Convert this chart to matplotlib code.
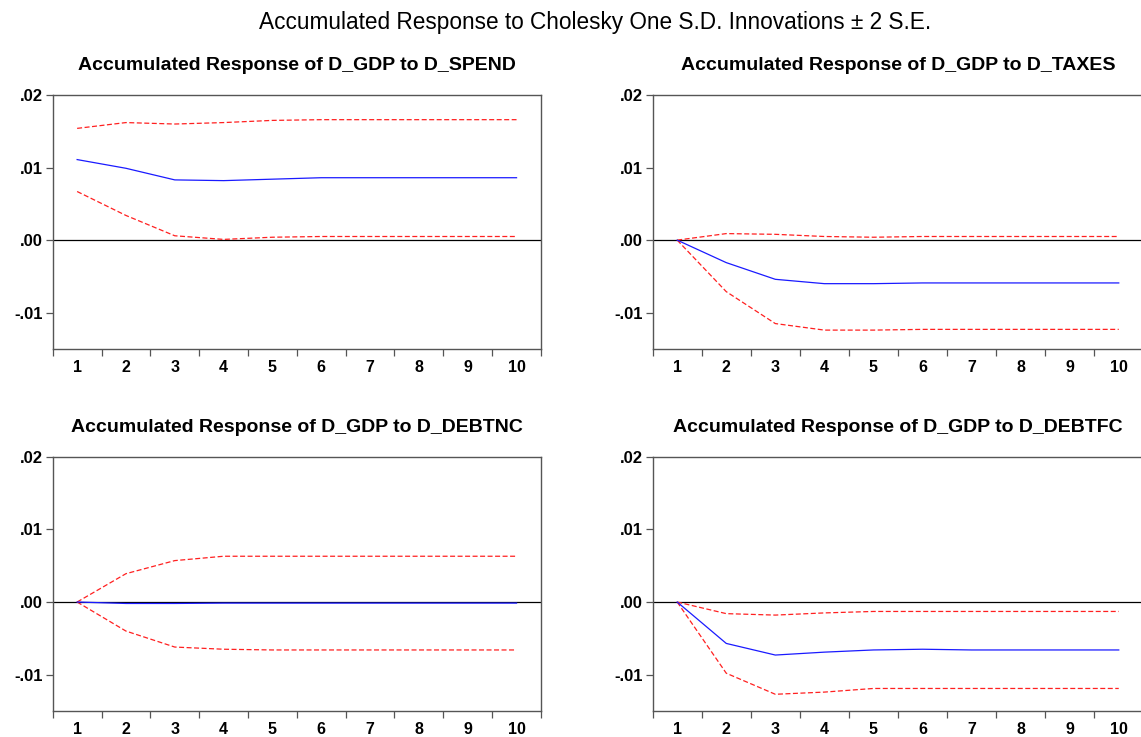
import numpy as np
import matplotlib
matplotlib.use("Agg")
import matplotlib.pyplot as plt
from matplotlib.ticker import FixedLocator

# --- Data ---
periods = list(range(1, 11))

titles = [
    "Accumulated Response of D_GDP to D_SPEND",
    "Accumulated Response of D_GDP to D_TAXES",
    "Accumulated Response of D_GDP to D_DEBTNC",
    "Accumulated Response of D_GDP to D_DEBTFC",
]

spend_resp = [0.0111, 0.0099, 0.0083, 0.0082, 0.0084, 0.0086, 0.0086, 0.0086, 0.0086, 0.0086]
spend_upper = [0.0154, 0.0162, 0.0160, 0.0162, 0.0165, 0.0166, 0.0166, 0.0166, 0.0166, 0.0166]
spend_lower = [0.0067, 0.0034, 0.0006, 0.0001, 0.0004, 0.0005, 0.0005, 0.0005, 0.0005, 0.0005]

taxes_resp = [0.0, -0.0031, -0.0054, -0.0060, -0.0060, -0.0059, -0.0059, -0.0059, -0.0059, -0.0059]
taxes_upper = [0.0, 0.0009, 0.0008, 0.0005, 0.0004, 0.0005, 0.0005, 0.0005, 0.0005, 0.0005]
taxes_lower = [0.0, -0.0071, -0.0115, -0.0124, -0.0124, -0.0123, -0.0123, -0.0123, -0.0123, -0.0123]

debtnc_resp = [0.0, -0.0002, -0.0002, -0.00015, -0.00015, -0.00015, -0.00015, -0.00015, -0.00015, -0.00015]
debtnc_upper = [0.0, 0.0039, 0.0057, 0.0063, 0.0063, 0.0063, 0.0063, 0.0063, 0.0063, 0.0063]
debtnc_lower = [0.0, -0.0040, -0.0062, -0.0065, -0.0066, -0.0066, -0.0066, -0.0066, -0.0066, -0.0066]

debtfc_resp = [0.0, -0.0057, -0.0073, -0.0069, -0.0066, -0.0065, -0.0066, -0.0066, -0.0066, -0.0066]
debtfc_upper = [0.0, -0.0016, -0.0018, -0.0015, -0.0013, -0.0013, -0.0013, -0.0013, -0.0013, -0.0013]
debtfc_lower = [0.0, -0.0098, -0.0127, -0.0124, -0.0119, -0.0119, -0.0119, -0.0119, -0.0119, -0.0119]

y_ticks = [-0.01, 0.0, 0.01, 0.02]
y_labels = ["-.01", ".00", ".01", ".02"]

plt.rcParams['font.family'] = ['Liberation Sans', 'DejaVu Sans']

fig = plt.figure(figsize=(11.41, 7.37), dpi=100)

# axes boxes in figure fractions: [left, bottom, width, height]
boxes = [
    [0.0462, 0.5265, 0.4279, 0.3446],
    [0.5720, 0.5265, 0.4300, 0.3446],
    [0.0462, 0.0353, 0.4279, 0.3450],
    [0.5720, 0.0353, 0.4300, 0.3450],
]

series = [
    (spend_resp, spend_upper, spend_lower),
    (taxes_resp, taxes_upper, taxes_lower),
    (debtnc_resp, debtnc_upper, debtnc_lower),
    (debtfc_resp, debtfc_upper, debtfc_lower),
]

spine_col = "#555555"

for box, title, (resp, upper, lower) in zip(boxes, titles, series):
    ax = fig.add_axes(box)
    ax.axhline(0, color="black", lw=0.9, zorder=1)
    ax.plot(periods, upper, color="#ff2020", lw=0.9, dashes=(4, 2), zorder=2)
    ax.plot(periods, lower, color="#ff2020", lw=0.9, dashes=(4, 2), zorder=2)
    ax.plot(periods, resp, color="#1a1aff", lw=0.9, zorder=3)

    ax.set_xlim(0.5, 10.5)
    ax.set_ylim(-0.015, 0.02)

    # x: tick marks between periods, labels centred on periods
    ax.xaxis.set_major_locator(FixedLocator(np.arange(0.5, 11, 1.0)))
    ax.xaxis.set_minor_locator(FixedLocator(periods))
    ax.tick_params(axis="x", which="major", length=5, width=0.9, color=spine_col,
                   labelbottom=False, direction="out")
    ax.tick_params(axis="x", which="minor", length=0, pad=8, labelsize=11.5)
    ax.set_xticklabels([str(p) for p in periods], minor=True, fontweight="bold")

    ax.yaxis.set_major_locator(FixedLocator(y_ticks))
    ax.set_yticklabels(y_labels, fontweight="bold")
    ax.tick_params(axis="y", length=5, width=0.9, color=spine_col, labelsize=12, pad=2)

    for s in ax.spines.values():
        s.set_color(spine_col)
        s.set_linewidth(1.0)

    ax.set_title(title, fontsize=14, fontweight="bold", pad=18)

fig.text(0.5215, 0.969, "Accumulated Response to Cholesky One S.D. Innovations \u00b1 2 S.E.",
         ha="center", va="center", fontsize=16.3)

fig.savefig("out.png", dpi=100, facecolor="white")
